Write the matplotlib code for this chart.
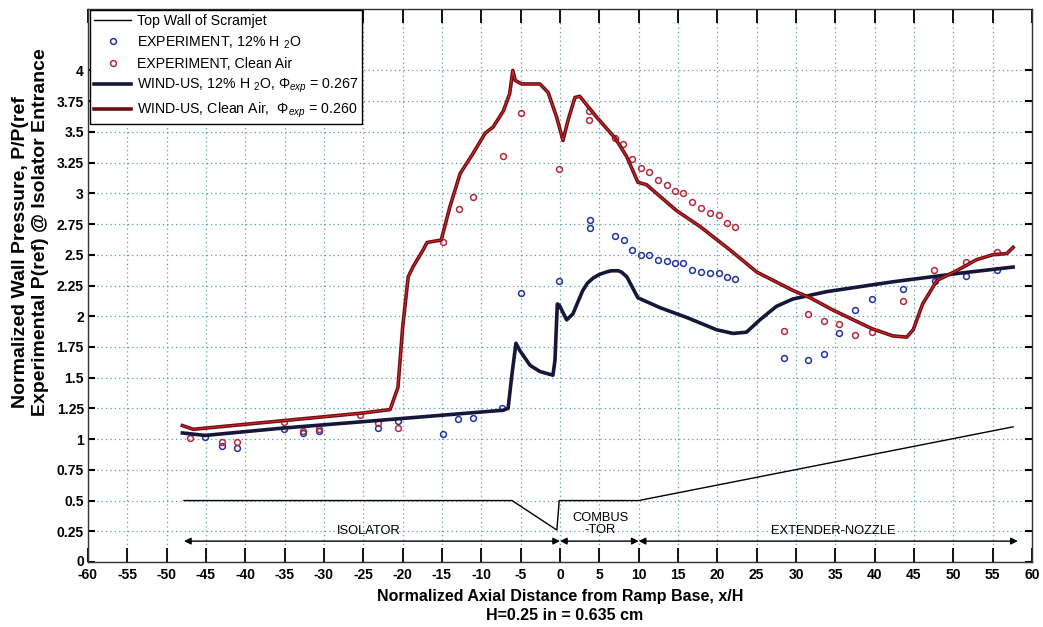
import matplotlib
matplotlib.use('Agg')
import matplotlib.pyplot as plt
import matplotlib.transforms as mtransforms
from matplotlib.lines import Line2D

plt.rcParams['font.family'] = ['Liberation Sans', 'DejaVu Sans']
plt.rcParams['axes.unicode_minus'] = False
plt.rcParams['mathtext.fontset'] = 'custom'
plt.rcParams['mathtext.rm'] = 'Liberation Sans'
plt.rcParams['mathtext.it'] = 'Liberation Sans:italic'
plt.rcParams['mathtext.bf'] = 'Liberation Sans:bold'

# WIND-US, clean air
cfdAirX = [-48.0, -46.6, -35.2, -25.4, -21.6, -20.6, -20.0, -19.3, -18.7, -17.4, -16.9,
           -15.1, -14.0, -12.7, -11.1, -9.5, -8.5, -7.2, -6.4, -6.0, -5.7, -4.9, -2.55,
           -1.5, -0.43, 0.38, 1.0, 1.9, 2.5, 4.66, 7.0, 8.47, 9.9, 11.0, 14.8, 17.8,
           21.6, 25.0, 29.6, 31.8, 34.7, 39.6, 42.3, 44.07, 44.9, 46.1, 47.9, 50.4,
           52.96, 55.0, 56.8, 57.6]
cfdAirY = [1.11, 1.08, 1.15, 1.21, 1.24, 1.42, 1.91, 2.32, 2.40, 2.54, 2.60,
           2.62, 2.89, 3.16, 3.32, 3.49, 3.54, 3.67, 3.81, 4.0, 3.92, 3.89, 3.89,
           3.82, 3.62, 3.43, 3.59, 3.78, 3.79, 3.62, 3.45, 3.30, 3.09, 3.07, 2.86, 2.73,
           2.54, 2.36, 2.21, 2.15, 2.05, 1.90, 1.84, 1.83, 1.89, 2.10, 2.29, 2.37,
           2.46, 2.50, 2.51, 2.56]

# WIND-US, 12% H2O
cfdH2oX = [-48.0, -45.1, -35.2, -25.4, -7.25, -6.6, -6.14, -5.6, -5.1, -3.8, -2.55,
           -0.9, -0.64, -0.34, -0.09, 0.85, 1.65, 2.3, 2.9, 3.5, 4.2, 5.0, 5.9, 6.5,
           7.4, 7.8, 8.5, 9.9, 12.7, 16.1, 19.9, 22.0, 23.7, 25.4, 27.5, 29.6, 33.9,
           42.3, 50.8, 57.6]
cfdH2oY = [1.05, 1.03, 1.09, 1.14, 1.235, 1.25, 1.51, 1.78, 1.72, 1.60, 1.55,
           1.52, 1.64, 2.10, 2.09, 1.97, 2.02, 2.12, 2.21, 2.27, 2.31, 2.34, 2.36, 2.37,
           2.37, 2.36, 2.32, 2.15, 2.07, 1.99, 1.89, 1.86, 1.87, 1.97, 2.08, 2.14, 2.20,
           2.28, 2.35, 2.40]

# experiment, 12% H2O
expH2oX = [-45.1, -43.0, -41.1, -35.1, -32.7, -30.6, -23.1, -20.6, -14.9, -13.0,
           -11.1, -7.4, -4.96, -0.13, 3.77, 3.77, 7.0, 8.1, 9.2, 10.25, 11.35, 12.4,
           13.55, 14.6, 15.67, 16.8, 17.96, 19.06, 20.2, 21.2, 22.3, 28.5, 31.5, 33.5,
           35.5, 37.5, 39.6, 43.6, 47.7, 51.6, 55.5]
expH2oY = [1.02, 0.94, 0.93, 1.08, 1.05, 1.07, 1.09, 1.15, 1.04, 1.16,
           1.17, 1.25, 2.19, 2.29, 2.78, 2.72, 2.65, 2.62, 2.54, 2.50, 2.50, 2.46,
           2.45, 2.43, 2.43, 2.38, 2.36, 2.35, 2.35, 2.32, 2.30, 1.66, 1.64, 1.69,
           1.86, 2.05, 2.14, 2.22, 2.29, 2.33, 2.38]

# experiment, clean air
expAirX = [-47.0, -43.0, -41.0, -35.1, -32.7, -30.6, -25.4, -23.1, -20.55, -14.9,
           -12.9, -11.0, -7.3, -5.0, -0.13, 3.7, 3.7, 7.0, 8.05, 9.2, 10.25, 11.35,
           12.4, 13.55, 14.6, 15.67, 16.8, 17.96, 19.06, 20.2, 21.2, 22.3, 28.5, 31.5,
           33.5, 35.5, 37.5, 39.6, 43.6, 47.6, 51.6, 55.6]
expAirY = [1.01, 0.98, 0.975, 1.14, 1.07, 1.08, 1.20, 1.13, 1.09, 2.60,
           2.87, 2.97, 3.30, 3.65, 3.20, 3.67, 3.60, 3.45, 3.40, 3.28, 3.21, 3.17,
           3.11, 3.07, 3.02, 3.00, 2.93, 2.88, 2.84, 2.82, 2.76, 2.73, 1.88, 2.02,
           1.96, 1.94, 1.85, 1.87, 2.12, 2.38, 2.44, 2.52]

# top wall contour of the scramjet flowpath
wallX = [-47.8, -6.1, -0.4, -0.1, 10.0, 57.6]
wallY = [0.5, 0.5, 0.26, 0.5, 0.5, 1.1]

# flowpath sections: (start, end, label, label x, label y)
sections = [(-47.8, 0.0, 'ISOLATOR', -24.3, 0.25),
            (0.0, 10.0, 'COMBUS\n-TOR', 5.1, 0.31),
            (10.0, 58.2, 'EXTENDER-NOZZLE', 34.7, 0.25)]

xTicks = list(range(-60, 61, 5))
yTicks = [i * 0.25 for i in range(17)]
yTickLabels = ['0', '0.25', '0.5', '0.75', '1', '1.25', '1.5', '1.75', '2',
               '2.25', '2.5', '2.75', '3', '3.25', '3.5', '3.75', '4']

fig = plt.figure(figsize=(10.43, 6.27), dpi=100)
ax = fig.add_axes([88 / 1043, 65 / 627, 944 / 1043, 553 / 627])

ax.plot(wallX, wallY, color='black', lw=1.0, zorder=3)
ax.plot(expH2oX, expH2oY, 'o', ms=4.2, mfc='none', mec='#2233a0', mew=1.1, zorder=4)
ax.plot(expAirX, expAirY, 'o', ms=4.2, mfc='none', mec='#b8283c', mew=1.1, zorder=4)
ax.plot(cfdH2oX, cfdH2oY, color='#16163a', lw=2.6, solid_joinstyle='round', zorder=5)
ax.plot(cfdAirX, cfdAirY, color='#6a0f14', lw=2.6, solid_joinstyle='round', zorder=5)
ax.plot(cfdAirX, cfdAirY, color='#e0262a', lw=0.7, zorder=6)

for start, end, label, lx, ly in sections:
    ax.annotate('', xy=(start, 0.17), xytext=(end, 0.17),
                arrowprops=dict(arrowstyle='<|-|>', color='black', lw=1.0,
                                mutation_scale=10, shrinkA=0, shrinkB=0))
    ax.text(lx, ly, label, ha='center', va='center', fontsize=9.3, linespacing=1.0)

ax.set_xlim(-60, 60)
ax.set_ylim(0, 4.5)
ax.set_xticks(xTicks)
ax.set_yticks(yTicks)
ax.set_yticklabels(yTickLabels)
ax.grid(True, color='#5a9ea6', linestyle=(0, (1, 2.5)), lw=0.9)
ax.tick_params(axis='x', direction='in', length=10, width=1.3, top=True, labelsize=10, pad=4)
ax.tick_params(axis='y', direction='in', length=5, width=1.5, right=True, labelsize=10, pad=3)
for lbl in ax.get_xticklabels() + ax.get_yticklabels():
    lbl.set_fontweight('bold')
# lift the "0" label a little so it clears the "-60" below it
zeroLabel = ax.get_yticklabels()[0]
zeroLabel.set_transform(zeroLabel.get_transform() +
                        mtransforms.ScaledTranslation(0, 2 / 100, fig.dpi_scale_trans))
for sp in ax.spines.values():
    sp.set_linewidth(1.0)
    sp.set_color('#333333')

handles = [
    Line2D([], [], color='black', lw=1.0),
    Line2D([], [], ls='none', marker='o', ms=4.2, mfc='none', mec='#2233a0', mew=1.1),
    Line2D([], [], ls='none', marker='o', ms=4.2, mfc='none', mec='#b8283c', mew=1.1),
    Line2D([], [], color='#16163a', lw=2.6),
    Line2D([], [], color='#6a0f14', lw=2.6),
]
labels = [
    'Top Wall of Scramjet',
    r'EXPERIMENT, 12% H $_2$O',
    'EXPERIMENT, Clean Air',
    r'WIND-US, 12% H $_2$O, $\Phi_{exp}$ = 0.267',
    r'WIND-US, Clean Air,  $\Phi_{exp}$ = 0.260',
]
leg = ax.legend(handles, labels, loc='upper left', bbox_to_anchor=(0.002, 0.998),
                fontsize=10.2, frameon=True, fancybox=False, edgecolor='black',
                framealpha=1, handlelength=2.6, handletextpad=0.4, labelspacing=0.42,
                borderpad=0.3, borderaxespad=0.0)
leg.get_frame().set_linewidth(1.0)

fig.text(0.5 * (88 + 1032) / 1043, 1 - 596 / 627,
         'Normalized Axial Distance from Ramp Base, x/H',
         ha='center', va='center', fontsize=11.5, fontweight='bold')
fig.text(565 / 1043, 1 - 615 / 627, 'H=0.25 in = 0.635 cm',
         ha='center', va='center', fontsize=11.5, fontweight='bold')
fig.text(21 / 1043, 1 - 252 / 627, 'Normalized Wall Pressure, P/P(ref',
         ha='center', va='center', rotation=90, fontsize=14, fontweight='bold')
fig.text(41 / 1043, 1 - 232 / 627, 'Experimental P(ref) @ Isolator Entrance',
         ha='center', va='center', rotation=90, fontsize=14, fontweight='bold')

fig.savefig('out.png', dpi=100)
